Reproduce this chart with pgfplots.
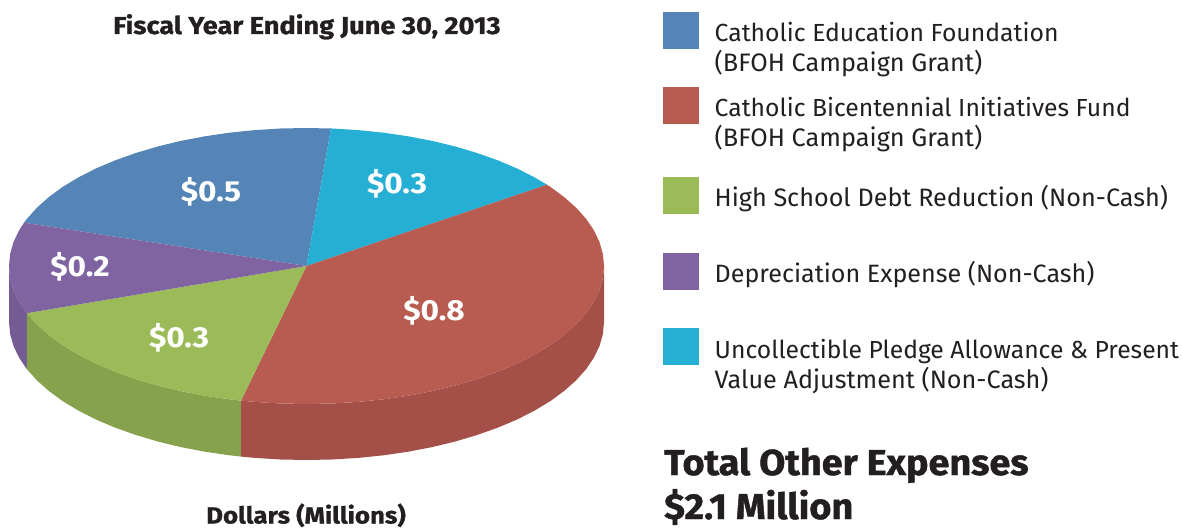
\documentclass[border=0pt]{standalone}
\usepackage{fontspec}
\usepackage{pgfplots}
\pgfplotsset{compat=1.18}
\setmainfont{Fira Sans}
\newfontfamily\xb[FakeBold=1.2,FakeStretch=1.05]{Fira Sans Bold}
\newfontfamily\xbt[FakeBold=1.0,FakeStretch=1.11]{Fira Sans Bold}
\newfontfamily\lb[FakeStretch=1.09]{Fira Sans Bold}
\definecolor{cblue}{HTML}{5485B6}
\definecolor{cred}{HTML}{B85C52}
\definecolor{cgreen}{HTML}{9BBB59}
\definecolor{cpurple}{HTML}{8064A2}
\definecolor{ccyan}{HTML}{25AFD4}
\definecolor{dred}{HTML}{A44F47}
\definecolor{dgreen}{HTML}{87A24D}
\definecolor{dpurple}{HTML}{745B93}
\definecolor{ctext}{HTML}{231F20}
\newcommand{\fs}[1]{\fontsize{#1}{#1}\selectfont}
\begin{document}
\begin{tikzpicture}
\begin{axis}[width=1183pt,height=529pt,scale only axis,xmin=0,xmax=1183,ymin=0,ymax=529,y dir=reverse,hide axis,clip=false]
\path (axis cs:0,0) rectangle (axis cs:1183,529);
% sides
\addplot[fill=dpurple,draw=none] coordinates {(9,266)(10.1,278)(13.5,290)(19.1,301.7)(26.9,313.2)(26.9,369.2)(19.1,357.7)(13.5,346)(10.1,334)(9,322)} -- cycle;
\addplot[fill=dgreen,draw=none] coordinates {(26.9,313.2)(36.9,324.3)(48.9,335)(62.8,345.2)(78.6,354.7)(96.1,363.6)(115.3,371.7)(135.9,379)(157.7,385.5)(180.8,391.1)(204.8,395.7)(229.5,399.3)(241,400.6)(241,456.6)(229.5,455.3)(204.8,451.7)(180.8,447.1)(157.7,441.5)(135.9,435)(115.3,427.7)(96.1,419.6)(78.6,410.7)(62.8,401.2)(48.9,391)(36.9,380.3)(26.9,369.2)} -- cycle;
\addplot[fill=dred,draw=none] coordinates {(241,400.6)(254.9,401.9)(280.6,403.5)(306.5,404)(332.4,403.5)(358.1,401.9)(383.5,399.3)(408.2,395.7)(432.2,391.1)(455.3,385.5)(477.1,379)(497.7,371.7)(516.9,363.6)(534.4,354.7)(550.2,345.2)(564.1,335)(576.1,324.3)(586.1,313.2)(593.9,301.7)(599.5,290)(602.9,278)(604,266)(604,322)(602.9,334)(599.5,346)(593.9,357.7)(586.1,369.2)(576.1,380.3)(564.1,391)(550.2,401.2)(534.4,410.7)(516.9,419.6)(497.7,427.7)(477.1,435)(455.3,441.5)(432.2,447.1)(408.2,451.7)(383.5,455.3)(358.1,457.9)(332.4,459.5)(306.5,460)(280.6,459.5)(254.9,457.9)(241,456.6)} -- cycle;
% top
\addplot[fill=cblue,draw=none] coordinates {(306.5,266)(331,128.5)(306.5,128)(280.6,128.5)(254.9,130.1)(229.5,132.7)(204.8,136.3)(180.8,140.9)(157.7,146.5)(135.9,153)(115.3,160.3)(96.1,168.4)(78.6,177.3)(62.8,186.8)(48.9,197)(36.9,207.7)(26.9,218.8)(24,222.7)} -- cycle;
\addplot[fill=ccyan,draw=none] coordinates {(306.5,266)(547,184.7)(534.4,177.3)(516.9,168.4)(497.7,160.3)(477.1,153)(455.3,146.5)(432.2,140.9)(408.2,136.3)(383.5,132.7)(358.1,130.1)(332.4,128.5)(331,128.5)} -- cycle;
\addplot[fill=cred,draw=none] coordinates {(306.5,266)(241,400.6)(254.9,401.9)(280.6,403.5)(306.5,404)(332.4,403.5)(358.1,401.9)(383.5,399.3)(408.2,395.7)(432.2,391.1)(455.3,385.5)(477.1,379)(497.7,371.7)(516.9,363.6)(534.4,354.7)(550.2,345.2)(564.1,335)(576.1,324.3)(586.1,313.2)(593.9,301.7)(599.5,290)(602.9,278)(604,266)(602.9,254)(599.5,242)(593.9,230.3)(586.1,218.8)(576.1,207.7)(564.1,197)(550.2,186.8)(547,184.7)} -- cycle;
\addplot[fill=cgreen,draw=none] coordinates {(306.5,266)(26.9,313.2)(36.9,324.3)(48.9,335)(62.8,345.2)(78.6,354.7)(96.1,363.6)(115.3,371.7)(135.9,379)(157.7,385.5)(180.8,391.1)(204.8,395.7)(229.5,399.3)(241,400.6)} -- cycle;
\addplot[fill=cpurple,draw=none] coordinates {(306.5,266)(24,222.7)(19.1,230.3)(13.5,242)(10.1,254)(9,266)(10.1,278)(13.5,290)(19.1,301.7)(26.9,313.2)} -- cycle;
% legend swatches
\addplot[fill=cblue,draw=none] coordinates {(663,12)(698.5,12)(698.5,49)(663,49)} -- cycle;
\addplot[fill=cred,draw=none] coordinates {(663,87)(698.5,87)(698.5,124)(663,124)} -- cycle;
\addplot[fill=cgreen,draw=none] coordinates {(663,177)(698.5,177)(698.5,214)(663,214)} -- cycle;
\addplot[fill=cpurple,draw=none] coordinates {(663,253)(698.5,253)(698.5,290)(663,290)} -- cycle;
\addplot[fill=ccyan,draw=none] coordinates {(663,328)(698.5,328)(698.5,365)(663,365)} -- cycle;
% texts
\begin{scope}[every node/.style={inner sep=0pt,anchor=base west,text=ctext}]
\node at (axis cs:714.5,42) {\fs{24.75}Catholic Education Foundation};
\node at (axis cs:714.5,72) {\fs{25.3}(BFOH Campaign Grant)};
\node at (axis cs:714.5,117) {\fs{24.7}Catholic Bicentennial Initiatives Fund};
\node at (axis cs:714.5,147) {\fs{25.3}(BFOH Campaign Grant)};
\node at (axis cs:714.5,207) {\fs{25.2}High School Debt Reduction (Non-Cash)};
\node at (axis cs:714.5,283) {\fs{25.1}Depreciation Expense (Non-Cash)};
\node at (axis cs:714.5,358) {\fs{24.7}Uncollectible Pledge Allowance \& Present};
\node at (axis cs:714.5,388) {\fs{25.2}Value Adjustment (Non-Cash)};
\node at (axis cs:664,475) {\fs{36}\xb Total Other Expenses};
\node at (axis cs:664,519) {\fs{36}\xb \$2.1 Million};
\node at (axis cs:113,34) {\fs{24.5}\xbt Fiscal Year Ending June 30, 2013};
\node at (axis cs:206,523.5) {\fs{23.3}\xbt Dollars (Millions)};
\end{scope}
\begin{scope}[every node/.style={inner sep=0pt,anchor=center,text=white}]
\node at (axis cs:211,192) {\fs{29}\lb \$0.5};
\node at (axis cs:397,184) {\fs{29}\lb \$0.3};
\node at (axis cs:80,267) {\fs{29}\lb \$0.2};
\node at (axis cs:179,338) {\fs{29}\lb \$0.3};
\node at (axis cs:434,311) {\fs{29}\lb \$0.8};
\end{scope}
\end{axis}
\end{tikzpicture}
\end{document}
